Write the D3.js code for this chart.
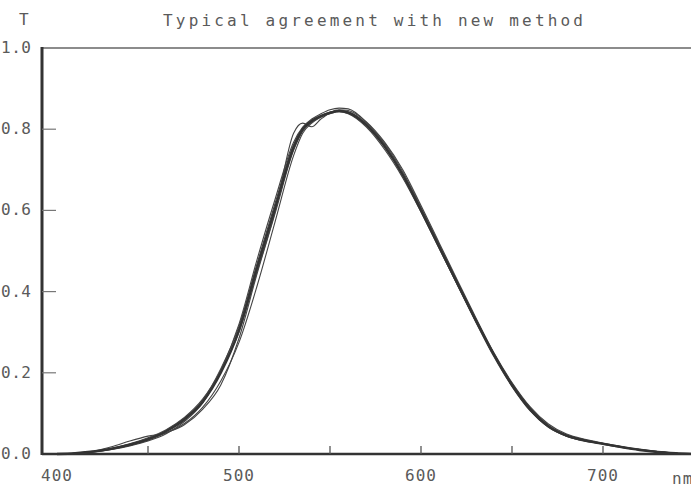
<!DOCTYPE html>
<html>
<head>
<meta charset="utf-8">
<script src="https://cdn.jsdelivr.net/npm/d3@7"></script>
<style>
    body { margin: 0; background: #fff; }
    svg { display: block; }
    .lbl { font-family: "DejaVu Sans Mono", monospace; font-size: 16px; fill: #5a5a5a; }
</style>
</head>
<body>
<script>
// wavelengths (nm) shared by all runs
let wavelengths = [400, 410, 420, 430, 440, 450, 460, 470, 480, 490, 500, 510, 520, 530, 535, 540, 545, 550, 555, 560, 570, 580, 590, 600, 610, 620, 630, 640, 650, 660, 670, 680, 690, 700, 710, 720, 730, 740, 750]

let runMain = [0.000, 0.002, 0.006, 0.013, 0.023, 0.036, 0.056, 0.085, 0.128, 0.200, 0.305, 0.460, 0.608, 0.755, 0.800, 0.820, 0.832, 0.840, 0.845, 0.841, 0.810, 0.757, 0.687, 0.600, 0.510, 0.420, 0.330, 0.245, 0.170, 0.110, 0.068, 0.045, 0.033, 0.025, 0.017, 0.010, 0.005, 0.002, 0.000]
let runA = [0.000, 0.002, 0.006, 0.014, 0.025, 0.040, 0.060, 0.090, 0.135, 0.205, 0.300, 0.450, 0.600, 0.790, 0.815, 0.806, 0.825, 0.840, 0.846, 0.842, 0.812, 0.760, 0.690, 0.605, 0.515, 0.423, 0.333, 0.247, 0.172, 0.112, 0.070, 0.046, 0.034, 0.026, 0.018, 0.011, 0.006, 0.002, 0.000]
let runB = [0.000, 0.002, 0.007, 0.018, 0.032, 0.044, 0.052, 0.075, 0.115, 0.180, 0.275, 0.415, 0.575, 0.735, 0.790, 0.815, 0.830, 0.842, 0.848, 0.846, 0.818, 0.768, 0.700, 0.612, 0.520, 0.428, 0.337, 0.250, 0.176, 0.116, 0.074, 0.049, 0.036, 0.027, 0.019, 0.012, 0.006, 0.002, 0.000]
let runC = [0.000, 0.002, 0.005, 0.011, 0.020, 0.032, 0.050, 0.080, 0.125, 0.205, 0.320, 0.480, 0.630, 0.768, 0.805, 0.825, 0.838, 0.848, 0.852, 0.850, 0.817, 0.762, 0.690, 0.600, 0.508, 0.416, 0.326, 0.240, 0.166, 0.106, 0.066, 0.044, 0.032, 0.024, 0.016, 0.010, 0.005, 0.001, 0.000]
let runD = [0.000, 0.001, 0.005, 0.012, 0.021, 0.034, 0.052, 0.072, 0.110, 0.170, 0.285, 0.445, 0.595, 0.748, 0.795, 0.818, 0.830, 0.838, 0.843, 0.838, 0.805, 0.750, 0.680, 0.596, 0.506, 0.417, 0.328, 0.243, 0.168, 0.108, 0.067, 0.044, 0.032, 0.025, 0.017, 0.010, 0.005, 0.002, 0.000]
let runE = [0.000, 0.002, 0.006, 0.013, 0.024, 0.038, 0.058, 0.088, 0.132, 0.210, 0.315, 0.470, 0.620, 0.762, 0.802, 0.822, 0.834, 0.842, 0.846, 0.843, 0.815, 0.765, 0.695, 0.608, 0.516, 0.424, 0.334, 0.248, 0.174, 0.114, 0.071, 0.047, 0.035, 0.026, 0.018, 0.011, 0.006, 0.002, 0.000]

let runs = [runA, runB, runC, runD, runE]

let xTicks = [450, 500, 550, 600, 650, 700]
let xLabels = [400, 500, 600, 700]
let yTicks = [0, 0.2, 0.4, 0.6, 0.8, 1.0]

let width = 691
let height = 486
let frameLeft = 42

let x = d3.scaleLinear().domain([400, 750]).range([57, 694])
let y = d3.scaleLinear().domain([0, 1]).range([454, 48])

let svg = d3.select("body")
    .append("svg")
    .attr("width", width)
    .attr("height", height)

// frame
svg.append("line")
    .attr("x1", frameLeft).attr("x2", width)
    .attr("y1", y(1)).attr("y2", y(1))
    .attr("stroke", "#666").attr("stroke-width", 1.4)

svg.append("line")
    .attr("x1", frameLeft).attr("x2", width)
    .attr("y1", y(0)).attr("y2", y(0))
    .attr("stroke", "#333").attr("stroke-width", 2.6)

svg.append("line")
    .attr("x1", frameLeft).attr("x2", frameLeft)
    .attr("y1", y(1) - 1).attr("y2", y(0) + 1)
    .attr("stroke", "#333").attr("stroke-width", 3)

// ticks
svg.selectAll(".ytick")
    .data(yTicks.filter(function (d) { return d > 0 && d < 1 }))
    .enter()
    .append("line")
    .attr("class", "ytick")
    .attr("x1", frameLeft).attr("x2", frameLeft + 14)
    .attr("y1", function (d) { return y(d) }).attr("y2", function (d) { return y(d) })
    .attr("stroke", "#777").attr("stroke-width", 1.2)

svg.selectAll(".xtick")
    .data(xTicks)
    .enter()
    .append("line")
    .attr("class", "xtick")
    .attr("x1", function (d) { return x(d) }).attr("x2", function (d) { return x(d) })
    .attr("y1", y(0)).attr("y2", y(0) - 8)
    .attr("stroke", "#555").attr("stroke-width", 1.3)

// tick labels
svg.selectAll(".ylab")
    .data(yTicks)
    .enter()
    .append("text")
    .attr("class", "lbl")
    .attr("x", 1)
    .attr("y", function (d) { return y(d) + 5 })
    .attr("font-size", 15)
    .attr("letter-spacing", 0.5)
    .text(function (d) { return d.toFixed(1) })

svg.selectAll(".xlab")
    .data(xLabels)
    .enter()
    .append("text")
    .attr("class", "lbl")
    .attr("x", function (d) { return x(d) })
    .attr("y", 481)
    .attr("text-anchor", "middle")
    .attr("letter-spacing", 1)
    .text(function (d) { return d })

svg.append("text").attr("class", "lbl")
    .attr("x", 672).attr("y", 484)
    .attr("letter-spacing", 1)
    .text("nm")

svg.append("text").attr("class", "lbl")
    .attr("x", 19).attr("y", 25)
    .attr("font-size", 17)
    .text("T")

svg.append("text").attr("class", "lbl")
    .attr("x", 163).attr("y", 26)
    .attr("font-size", 17)
    .attr("textLength", 420).attr("lengthAdjust", "spacing")
    .text("Typical agreement with new method")

// curves
let line = d3.line()
    .x(function (d, i) { return x(wavelengths[i]) })
    .y(function (d) { return y(d) })
    .curve(d3.curveMonotoneX)

svg.selectAll(".run")
    .data(runs)
    .enter()
    .append("path")
    .attr("class", "run")
    .attr("d", line)
    .attr("fill", "none")
    .attr("stroke", "#444")
    .attr("stroke-width", 1.1)

svg.append("path")
    .datum(runMain)
    .attr("d", line)
    .attr("fill", "none")
    .attr("stroke", "#333")
    .attr("stroke-width", 2.4)
</script>
</body>
</html>
